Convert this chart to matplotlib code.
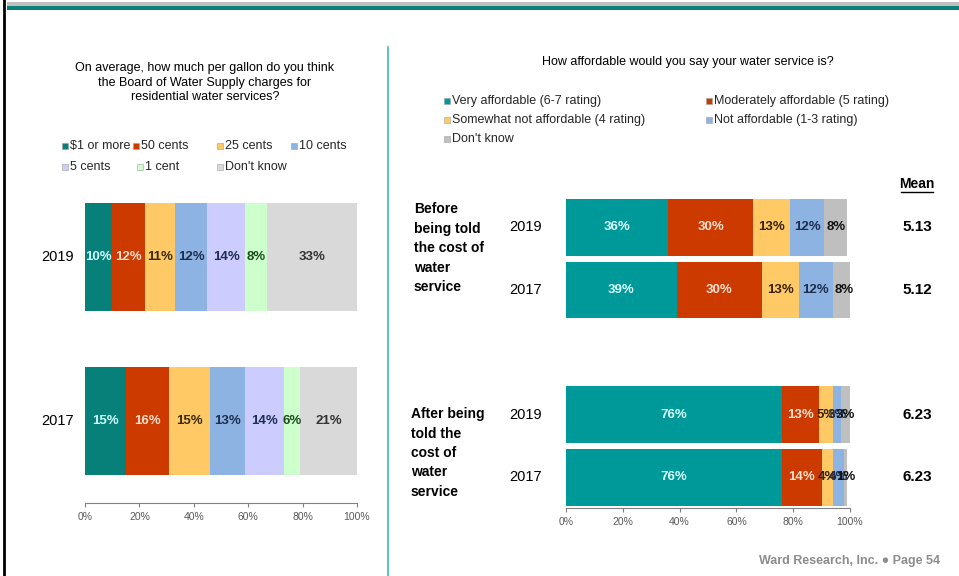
import matplotlib
matplotlib.use("Agg")
import matplotlib.pyplot as plt
from matplotlib.patches import Rectangle
from matplotlib.lines import Line2D

plt.rcParams['font.family'] = ['Liberation Sans Narrow', 'Liberation Sans', 'DejaVu Sans']
plt.rcParams['font.stretch'] = 'condensed'

W, H = 959, 576

# --- per-gallon charge question (left) ---
price_cats = ['$1 or more', '50 cents', '25 cents', '10 cents', '5 cents', '1 cent', "Don't know"]
price_colors = ['#08807A', '#CC3A00', '#FFC966', '#8DB3E2', '#CCCCFF', '#CCFFCC', '#D9D9D9']
price_label_colors = ['#CCFFFF', '#FFDDD0', '#3A2A00', '#1F2D50', '#1F2D50', '#1E4B1E', '#333333']
price_years = ['2019', '2017']
price_2019 = [10, 12, 11, 12, 14, 8, 33]
price_2017 = [15, 16, 15, 13, 14, 6, 21]

# --- affordability question (right) ---
afford_cats = ['Very affordable (6-7 rating)', 'Moderately affordable (5 rating)',
               'Somewhat not affordable (4 rating)', 'Not affordable (1-3 rating)', "Don't know"]
afford_colors = ['#009999', '#CC3A00', '#FFC966', '#8DB3E2', '#BFBFBF']
afford_label_colors = ['#D9FFFF', '#FFE0D0', '#3A2200', '#1F2D50', '#111111']
afford_rows = ['2019', '2017', '2019', '2017']
before_2019 = [36, 30, 13, 12, 8]
before_2017 = [39, 30, 13, 12, 8]
after_2019 = [76, 13, 5, 3, 3]
after_2017 = [76, 14, 4, 4, 1]
means = ['5.13', '5.12', '6.23', '6.23']


def fx(px):
    return px / W


def fy(py):
    return 1 - py / H


def ax_rect(x0, y0, x1, y1):
    return [fx(x0), fy(y1), fx(x1) - fx(x0), fy(y0) - fy(y1)]


def stacked(ax, ypos, vals, colors, lcolors, height):
    left = 0
    for v, c, lc in zip(vals, colors, lcolors):
        ax.barh(ypos, v, left=left, height=height, color=c, edgecolor='none')
        ax.text(left + v / 2, ypos, f'{v}%', ha='center', va='center',
                fontsize=9.5, fontweight='bold', color=lc)
        left += v


def style_axis(ax):
    for s in ['top', 'right', 'left']:
        ax.spines[s].set_visible(False)
    ax.spines['bottom'].set_color('#808080')
    ax.set_xlim(0, 100)
    ax.set_xticks(range(0, 101, 20))
    ax.set_xticklabels([f'{t}%' for t in range(0, 101, 20)])
    ax.tick_params(axis='x', colors='#808080', labelsize=7.5, length=3, labelcolor='#595959')
    ax.tick_params(axis='y', length=0)
    ax.set_yticks([])
    ax.patch.set_alpha(0)


fig = plt.figure(figsize=(W / 100, H / 100), dpi=100)

# frame decorations
fig.add_artist(Rectangle((fx(7), fy(6)), 1, fy(2) - fy(6), transform=fig.transFigure,
                         color='#BFBFBF', lw=0))
fig.add_artist(Rectangle((fx(7), fy(10)), 1, fy(6) - fy(10), transform=fig.transFigure,
                         color='#0B7F78', lw=0))
fig.add_artist(Line2D([fx(4), fx(4)], [0, 1], transform=fig.transFigure, color='black', lw=2))
fig.add_artist(Line2D([fx(388), fx(388)], [0, fy(47)], transform=fig.transFigure,
                      color='#3FB6B0', lw=1.2))

# left chart
axl = fig.add_axes(ax_rect(85, 190, 357, 503))
style_axis(axl)
axl.set_ylim(-0.5, 1.41)
stacked(axl, 1, price_2019, price_colors, price_label_colors, 0.66)
stacked(axl, 0, price_2017, price_colors, price_label_colors, 0.66)
for yv, yr in zip([1, 0], price_years):
    axl.text(-4, yv, yr, ha='right', va='center', fontsize=10.5)

fig.text(fx(205), fy(62), 'On average, how much per gallon do you think\n'
         'the Board of Water Supply charges for\nresidential water services?',
         ha='center', va='top', fontsize=9, linespacing=1.3)

legend_left = [(62, 146), (133, 146), (217, 146), (291, 146),
               (62, 167), (137, 167), (217, 167)]
for (px, py), name, c in zip(legend_left, price_cats, price_colors):
    fig.add_artist(Rectangle((fx(px), fy(py + 3)), fx(6), fy(0) - fy(6),
                             transform=fig.transFigure, facecolor=c, edgecolor='#A0A0A0', lw=0.4))
    fig.text(fx(px + 8), fy(py), name, ha='left', va='center', fontsize=9, color='#262626')

# right chart
axr = fig.add_axes(ax_rect(566, 190, 850, 508))
style_axis(axr)
axr.set_ylim(-0.49, 4.6)
row_y = [4, 3, 1, 0]
for yv, vals in zip(row_y, [before_2019, before_2017, after_2019, after_2017]):
    stacked(axr, yv, vals, afford_colors, afford_label_colors, 0.91)
for yv, yr, m in zip(row_y, afford_rows, means):
    axr.text(-8.5, yv, yr, ha='right', va='center', fontsize=10.5)
    axr.text(123.6, yv, m, ha='center', va='center', fontsize=11, fontweight='bold')
axr.text(123.6, 4.7, 'Mean', ha='center', va='center', fontsize=10, fontweight='bold')
axr.plot([117.8, 129.4], [4.57, 4.57], color='black', lw=1, clip_on=False)

fig.text(fx(414), fy(202), 'Before\nbeing told\nthe cost of\nwater\nservice',
         ha='left', va='top', fontsize=10, fontweight='bold', linespacing=1.5)
fig.text(fx(411), fy(407), 'After being\ntold the\ncost of\nwater\nservice',
         ha='left', va='top', fontsize=10, fontweight='bold', linespacing=1.5)

fig.text(fx(688), fy(62), 'How affordable would you say your water service is?',
         ha='center', va='center', fontsize=9)

legend_right = [(444, 101), (706, 101), (444, 120), (706, 120), (444, 139)]
for (px, py), name, c in zip(legend_right, afford_cats, afford_colors):
    fig.add_artist(Rectangle((fx(px), fy(py + 3)), fx(6), fy(0) - fy(6),
                             transform=fig.transFigure, facecolor=c, edgecolor='#A0A0A0', lw=0.4))
    fig.text(fx(px + 8), fy(py), name, ha='left', va='center', fontsize=9, color='#262626')

fig.text(fx(940), fy(561), 'Ward Research, Inc. \u25CF Page 54', ha='right', va='center',
         fontsize=9, fontweight='bold', color='#8C8C8C')

fig.savefig('out.png', dpi=100)
